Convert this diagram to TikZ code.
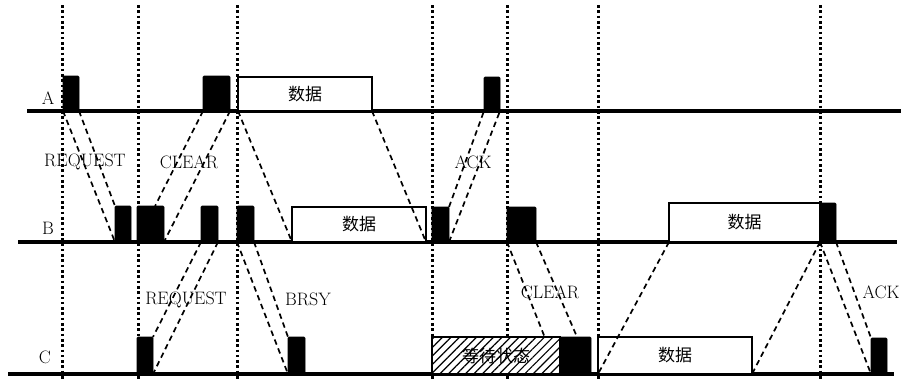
\documentclass[tikz,border=0pt]{standalone}
\usepackage{fontspec}
\newfontfamily\cjk{Noto Sans CJK SC}
\usetikzlibrary{calc,patterns.meta}
\begin{document}
\begin{tikzpicture}[x=1pt,y=-1pt,
  base/.style={line width=3.2pt},
  vdot/.style={line width=3pt, dash pattern=on 2.6pt off 2.7pt, line cap=butt},
  sig/.style={line width=1.7pt, dash pattern=on 5.5pt off 4pt},
  blk/.style={fill=black, draw=black, line width=0.6pt, rounded corners=1pt, inner sep=0pt, outer sep=0pt, anchor=south west},
  dat/.style={fill=white, draw=black, line width=2.8pt, inner sep=0pt, outer sep=0pt, anchor=south west, font=\cjk\fontsize{17}{20}\selectfont},
  hat/.style={draw=black, line width=2.8pt, inner sep=0pt, outer sep=0pt, anchor=south west,
              preaction={fill=white}, pattern={Lines[angle=45,distance=6pt,line width=1.2pt]},
              font=\cjk\fontsize{17}{20}\selectfont},
  lbl/.style={font=\fontsize{18}{20}\selectfont, inner sep=0pt}]
\useasboundingbox (0,0) rectangle (901,381);

% vertical dotted time markers
\foreach \x/\n in {62.5/v1,138/v2,237/v3,432/v4,507.5/v5,598/v6,820/v7}{
  \coordinate (\n t) at (\x,5);
  \coordinate (\n b) at (\x,381);
  \draw[vdot] (\n t) -- (\n b);
}

% station lines
\coordinate (la0) at (27,111);  \coordinate (la1) at (901,111);
\coordinate (lb0) at (18,242);  \coordinate (lb1) at (897,242);
\coordinate (lc0) at (8,374);   \coordinate (lc1) at (894,374);
\draw[base] (la0) -- (la1);
\draw[base] (lb0) -- (lb1);
\draw[base] (lc0) -- (lc1);

\node[lbl] (lA) at (48,98) {A};
\node[lbl] (lB) at (48,228) {B};
\node[lbl] (lC) at (45,357) {C};

% station A
\node[blk, minimum width=16pt, minimum height=35pt] (a1) at (63,111) {};
\node[blk, minimum width=27pt, minimum height=35pt] (a2) at (203,111) {};
\node[dat, minimum width=134pt, minimum height=34pt] (ad) at (238,111) {数据};
\node[blk, minimum width=16pt, minimum height=34pt] (a3) at (484,111) {};

% station B
\node[blk, minimum width=16pt, minimum height=36pt] (b1) at (115,242) {};
\node[blk, minimum width=27pt, minimum height=36pt] (b2) at (137,242) {};
\node[blk, minimum width=17pt, minimum height=36pt] (b3) at (201,242) {};
\node[blk, minimum width=17pt, minimum height=36pt] (b4) at (237,242) {};
\node[dat, minimum width=134pt, minimum height=35pt] (bd1) at (292,242) {数据};
\node[blk, minimum width=17pt, minimum height=35pt] (b5) at (432,242) {};
\node[blk, minimum width=29pt, minimum height=35pt] (b6) at (507,242) {};
\node[dat, minimum width=151pt, minimum height=39pt] (bd2) at (669,242) {数据};
\node[blk, minimum width=16pt, minimum height=39pt] (b7) at (820,242) {};

% station C
\node[blk, minimum width=16pt, minimum height=37pt] (c1) at (137,374) {};
\node[blk, minimum width=17pt, minimum height=37pt] (c2) at (288,374) {};
\node[hat, minimum width=128pt, minimum height=37pt] (cw) at (432,374) {等待状态};
\node[blk, minimum width=31pt, minimum height=37pt] (c3) at (560,374) {};
\node[dat, minimum width=154pt, minimum height=37pt] (cd) at (598,374) {数据};
\node[blk, minimum width=16pt, minimum height=36pt] (c4) at (871,374) {};

% signals A <-> B
\draw[sig] (a1.south west) -- (b1.south west);
\draw[sig] (a1.south east) -- (b1.north west);
\draw[sig] (a2.south west) -- ($(b2.north west)!0.67!(b2.north east)$);
\draw[sig] (a2.south east) -- (b2.south east);
\draw[sig] (ad.south west) -- (bd1.south west);
\draw[sig] (ad.south east) -- (bd1.south east);
\draw[sig] (b5.north east) -- (a3.south west);
\draw[sig] (b5.south east) -- (a3.south east);

% signals B <-> C
\draw[sig] (b3.south west) -- (c1.north east);
\draw[sig] (b3.south east) -- (c1.south east);
\draw[sig] (b4.south west) -- (c2.south west);
\draw[sig] (b4.south east) -- (c2.north west);
\draw[sig] (b6.south west) -- ($(cw.north west)!0.88!(cw.north east)$);
\draw[sig] (b6.south east) -- ($(c3.north west)!0.55!(c3.north east)$);
\draw[sig] (bd2.south west) -- (cd.south west);
\draw[sig] (bd2.south east) -- (cd.south east);
\draw[sig] (b7.south west) -- (c4.south west);
\draw[sig] (b7.south east) -- (c4.north west);

% signal labels
\node[lbl] (t1) at (85,162) {REQUEST};
\node[lbl] (t2) at (189,162) {CLEAR};
\node[lbl] (t3) at (473,162) {ACK};
\node[lbl] (t4) at (186,300) {REQUEST};
\node[lbl] (t5) at (308,299) {BRSY};
\node[lbl] (t6) at (550,292) {CLEAR};
\node[lbl] (t7) at (881,292) {ACK};
\end{tikzpicture}
\end{document}
